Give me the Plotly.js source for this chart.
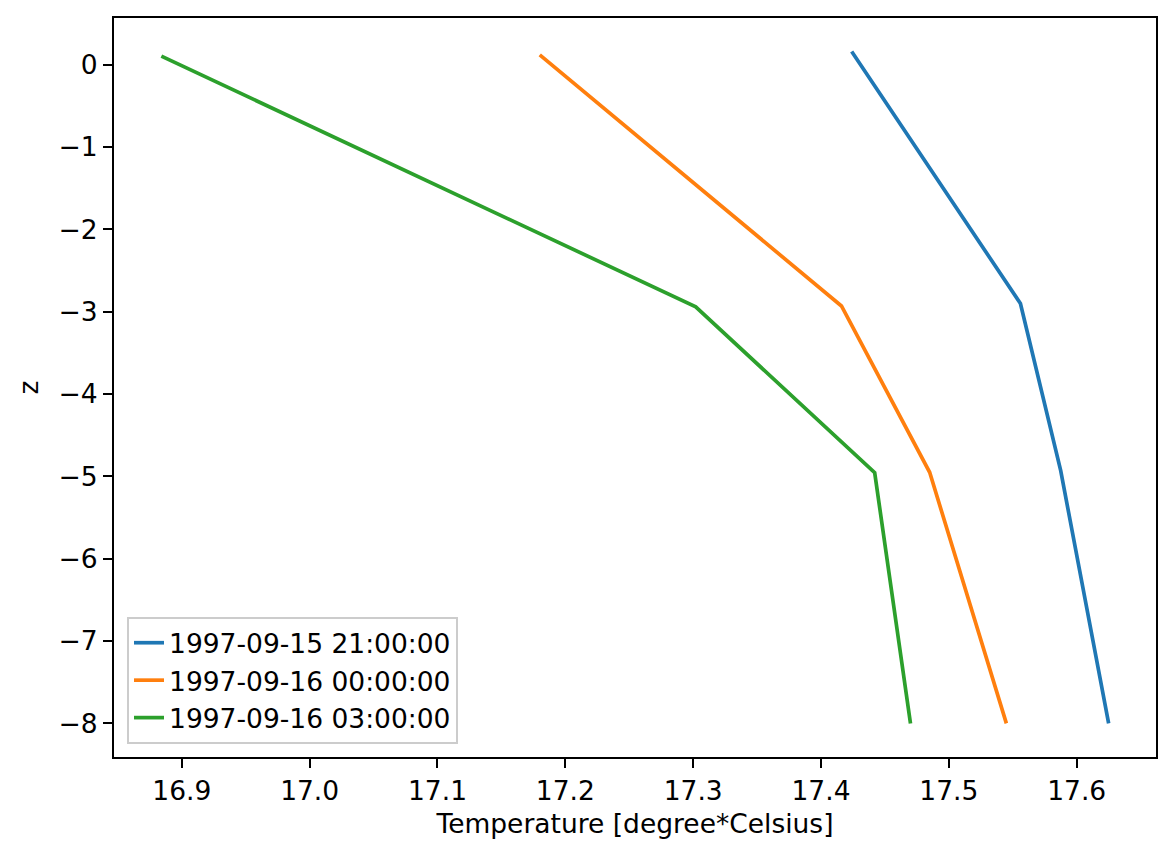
<!DOCTYPE html>
<html>
<head>
<meta charset="utf-8">
<script src="https://cdn.plot.ly/plotly-3.0.1.min.js"></script>
<style>html,body{margin:0;padding:0;background:#fff;}#chart{width:1174px;height:858px;}</style>
</head>
<body>
<div id="chart"></div>
<script>
const seriesNames = ["1997-09-15 21:00:00", "1997-09-16 00:00:00", "1997-09-16 03:00:00"];
const tempBlue   = [17.424, 17.556, 17.5875, 17.625];
const zBlue      = [0.16, -2.90, -4.93, -8.0];
const tempOrange = [17.180, 17.416, 17.485, 17.545];
const zOrange    = [0.12, -2.93, -4.95, -8.0];
const tempGreen  = [16.884, 17.302, 17.442, 17.470];
const zGreen     = [0.105, -2.94, -4.955, -8.0];
const xTicks = [16.9, 17.0, 17.1, 17.2, 17.3, 17.4, 17.5, 17.6];
const yTicks = [0, -1, -2, -3, -4, -5, -6, -7, -8];

const colors = ["#1f77b4", "#ff7f0e", "#2ca02c"];
const temps = [tempBlue, tempOrange, tempGreen];
const zs = [zBlue, zOrange, zGreen];

const allX = temps.flat(), allY = zs.flat();
function pad(arr) {
  const mn = Math.min(...arr), mx = Math.max(...arr), s = mx - mn;
  return [mn - 0.05 * s, mx + 0.05 * s];
}

const font = "DejaVu Sans, sans-serif";
const FS = 26.5;
const traces = temps.map((t, i) => ({
  x: t, y: zs[i], type: "scatter", mode: "lines", name: seriesNames[i],
  line: {color: colors[i], width: 3.7}
}));

const layout = {
  width: 1174, height: 858,
  margin: {l: 114, r: 18, t: 18, b: 101},
  paper_bgcolor: "#fff", plot_bgcolor: "#fff",
  font: {family: font, size: FS, color: "#000"},
  showlegend: true,
  legend: {
    x: 0.0125, y: 0.0176, xanchor: "left", yanchor: "bottom",
    bgcolor: "rgba(255,255,255,0.8)", bordercolor: "#cccccc", borderwidth: 2,
    font: {family: font, size: FS, color: "#000"},
    traceorder: "normal"
  },
  xaxis: {
    range: pad(allX), tickvals: xTicks, ticktext: xTicks.map(v => v.toFixed(1)),
    showgrid: false, zeroline: false, showline: true, mirror: true,
    linecolor: "#000", linewidth: 2, ticks: "outside", ticklen: 9, tickwidth: 2, tickcolor: "#000",
    tickfont: {family: font, size: FS}, automargin: false,
    title: {text: "Temperature [degree*Celsius]", font: {family: font, size: FS}, standoff: 10}
  },
  yaxis: {
    range: pad(allY), tickvals: yTicks, ticktext: yTicks.map(v => v < 0 ? "\u2212" + Math.abs(v) : String(v)),
    showgrid: false, zeroline: false, showline: true, mirror: true,
    linecolor: "#000", linewidth: 2, ticks: "outside", ticklen: 9, tickwidth: 2, tickcolor: "#000",
    tickfont: {family: font, size: FS}, automargin: false,
    title: {text: "z", font: {family: font, size: FS}, standoff: 12}
  }
};

Plotly.newPlot("chart", traces, layout, {displayModeBar: false, staticPlot: true});
</script>
</body>
</html>
